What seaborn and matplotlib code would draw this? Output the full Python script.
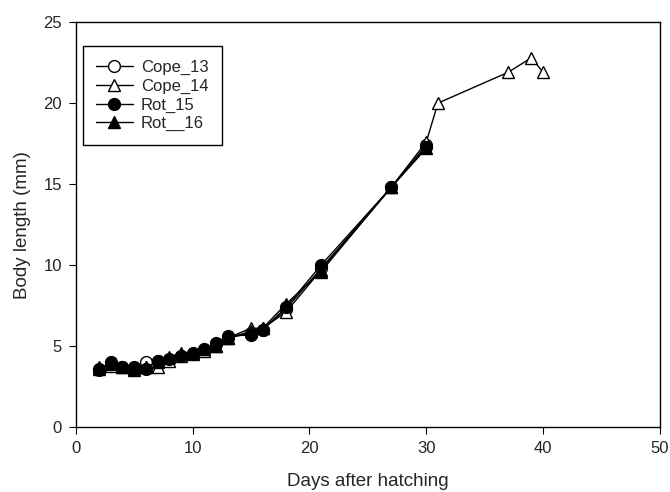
import pandas as pd
import matplotlib
matplotlib.use("Agg")
import matplotlib.pyplot as plt
import seaborn as sns

# data
days = [2, 3, 4, 5, 6, 7, 8, 9, 10, 11, 12, 13, 15, 16, 18, 21, 27, 30]
days_cope14 = days + [31, 37, 39, 40]

cope_13 = [3.6, 3.8, 3.7, 3.6, 4.0, 4.1, 4.1, 4.4, 4.5, 4.7, 5.1, 5.5, 5.8, 6.0, 7.3, 9.8, 14.8, 17.4]
cope_14 = [3.6, 3.8, 3.7, 3.5, 3.7, 3.7, 4.1, 4.4, 4.5, 4.7, 5.0, 5.5, 6.1, 6.1, 7.1, 9.7, 14.8, 17.6,
           20.0, 21.9, 22.8, 21.9]
rot_15 = [3.5, 4.0, 3.7, 3.7, 3.6, 4.1, 4.2, 4.4, 4.6, 4.8, 5.2, 5.6, 5.7, 6.0, 7.4, 10.0, 14.8, 17.3]
rot_16 = [3.7, 3.9, 3.7, 3.6, 3.7, 4.0, 4.3, 4.6, 4.6, 4.8, 5.0, 5.5, 5.9, 6.1, 7.6, 9.6, 14.8, 17.2]

series = [
    ("Cope_13", days, cope_13, "o", "white"),
    ("Cope_14", days_cope14, cope_14, "^", "white"),
    ("Rot_15", days, rot_15, "o", "black"),
    ("Rot__16", days, rot_16, "^", "black"),
]

sns.set_style("ticks")
plt.rcParams['font.family'] = ['Liberation Sans', 'DejaVu Sans']

fig = plt.figure(figsize=(6.7, 4.92), dpi=100)
ax = fig.add_axes([0.113, 0.132, 0.872, 0.823])

for name, x, y, mk, fc in series:
    df = pd.DataFrame({"day": x, "length": y})
    sns.lineplot(data=df, x="day", y="length", ax=ax, sort=False, color="black",
                 linewidth=1, marker=mk, markersize=8.5, markerfacecolor=fc,
                 markeredgecolor="black", markeredgewidth=1, label=name)

ax.set_xlim(0, 50)
ax.set_ylim(0, 25)
ax.set_xticks([0, 10, 20, 30, 40, 50])
ax.set_yticks([0, 5, 10, 15, 20, 25])
ax.tick_params(axis="both", labelsize=12, direction="out", length=5, color="black",
               top=False, right=False, pad=5)
ax.set_xlabel("Days after hatching", fontsize=13.5, labelpad=12)
ax.set_ylabel("Body length (mm)", fontsize=13.5, labelpad=9)
for s in ax.spines.values():
    s.set_visible(True)
    s.set_color("black")
    s.set_linewidth(1)

leg = ax.legend(loc="upper left", bbox_to_anchor=(0.012, 0.94), fontsize=12,
                frameon=True, fancybox=False, edgecolor="black", framealpha=1,
                handlelength=2.2, handletextpad=0.5, labelspacing=0.22,
                borderpad=0.8, borderaxespad=0)
leg.get_frame().set_linewidth(1)

fig.savefig("out.png", dpi=100)
